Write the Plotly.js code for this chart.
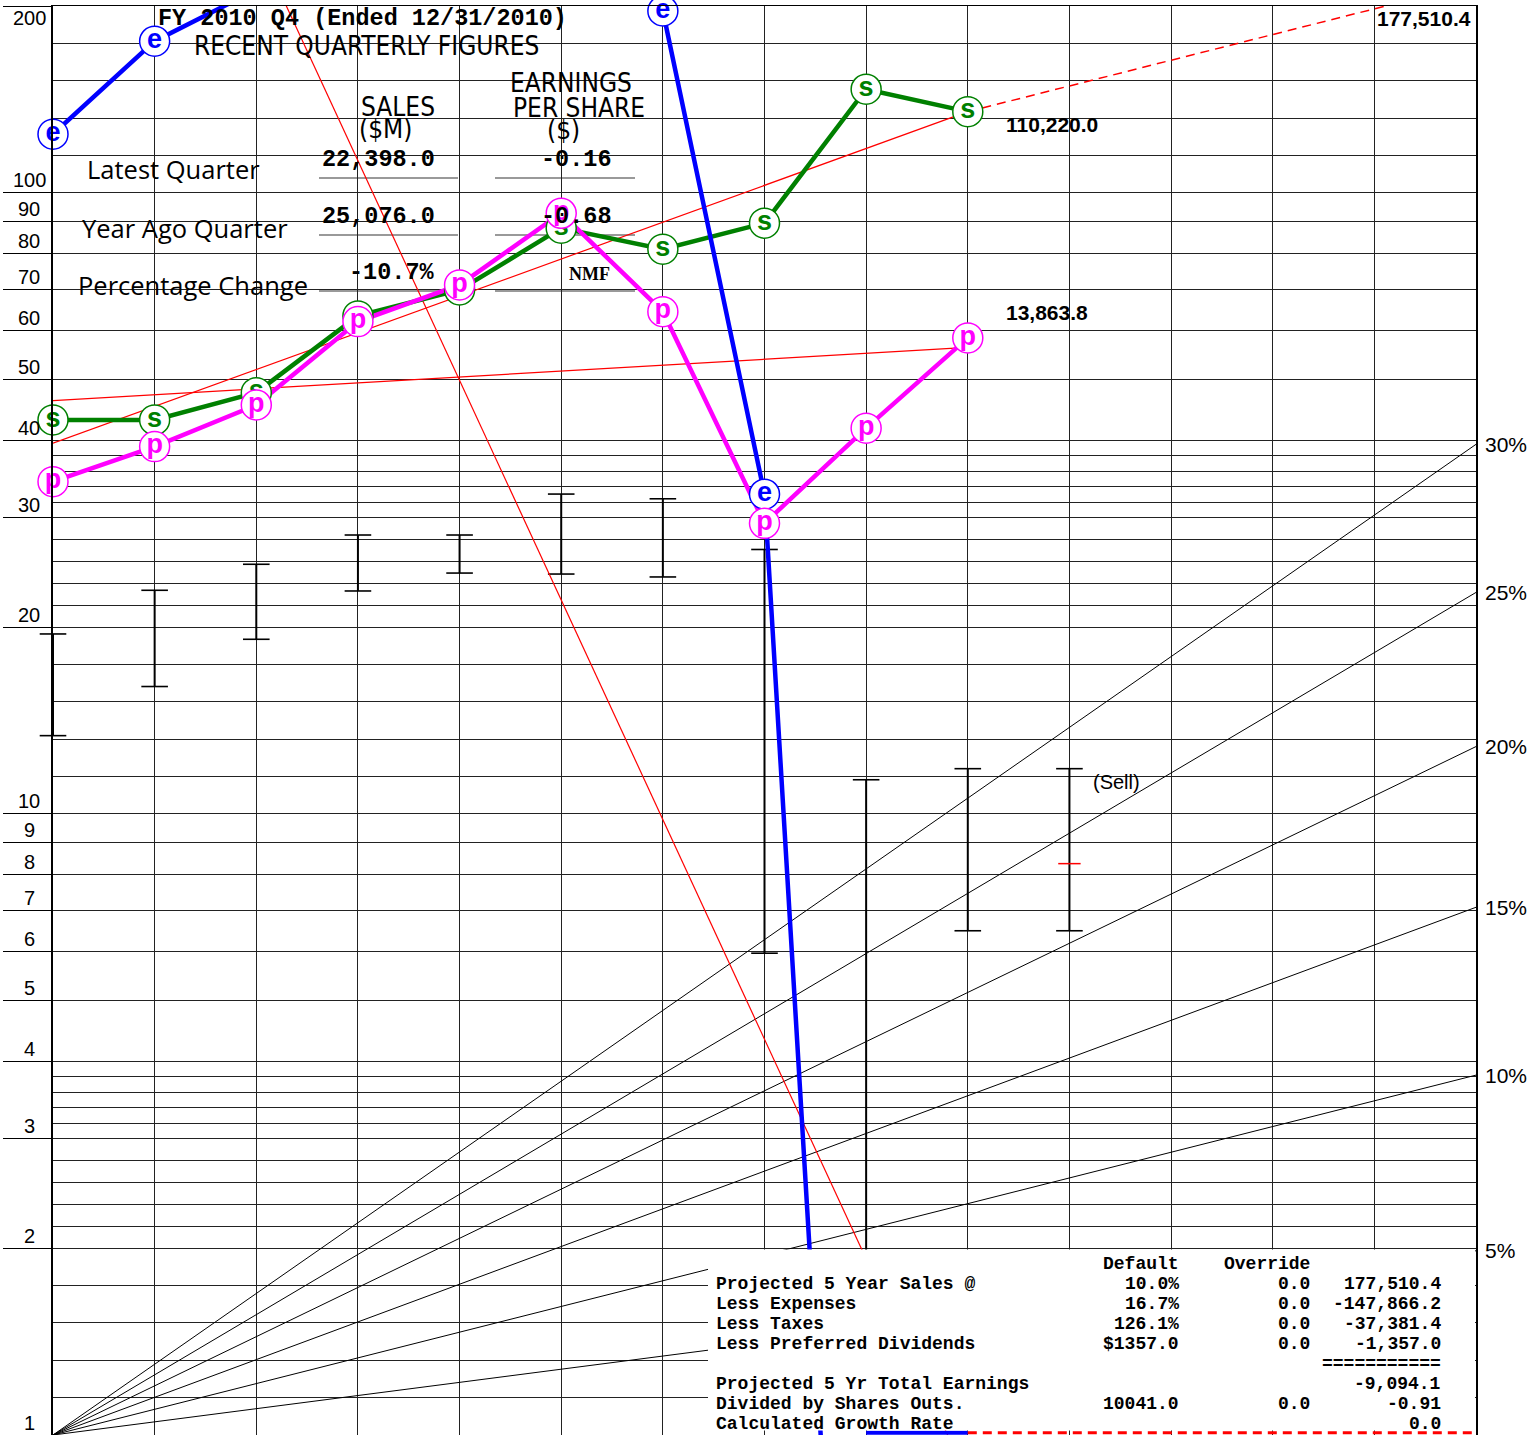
<!DOCTYPE html>
<html>
<head>
<meta charset="utf-8">
<script src="https://cdn.plot.ly/plotly-3.0.1.min.js"></script>
<style>
  html, body { margin: 0; padding: 0; background: #fff; }
  #chart { width: 1537px; height: 1435px; }
</style>
</head>
<body>
<div id="chart"></div>
<script>
// ---- Historical data (10 fiscal years, 2001-2010) ----
const years      = [0, 1, 2, 3, 4, 5, 6, 7, 8, 9];
const sales      = [35150, 35150, 38890, 51690, 56910, 71560, 66200, 72900, 119780, 110220]; // $M
const pretax     = [8137, 9265, 10812, 14730, 16873, 22010, 15283, 6972, 9920, 13863.8];     // $M
const eps        = [2.09, 2.95, 3.57, 3.64, 4.15, 4.59, 3.30, 0.55, -0.29, -0.37];           // $
const priceHigh  = [32.76, 38.52, 42.42, 47.28, 47.28, 55.03, 54.08, 44.81, 19.08, 19.88];   // $
const priceLow   = [22.47, 26.96, 32.12, 38.42, 41.06, 40.91, 40.47, 10.03, 2.53, 10.90];    // $

// Forecast price zone and current price (plotted one year past the history)
const forecastYear  = 10;
const forecastHigh  = 19.88;
const forecastLow   = 10.90;
const currentPrice  = 13.98;

// Trend lines: value at first and last historical year
const trendYears  = [0, 9];
const salesTrend  = [32240, 110220];
const pretaxTrend = [10987, 13384];
const epsTrend    = [21.8, 0.0143];

// Projection horizon
const projYears = [9, 14];

// Growth-rate guide lines (% per year)
const growthRates = [5, 10, 15, 20, 25, 30];

// Labelled y ticks
const yTickVals = [1, 2, 3, 4, 5, 6, 7, 8, 9, 10, 20, 30, 40, 50, 60, 70, 80, 90, 100, 200];

// Recent quarterly figures
const quarterTitle = 'FY 2010 Q4 (Ended 12/31/2010)';
const quarterRows  = ['Latest Quarter', 'Year Ago Quarter', 'Percentage Change'];
const quarterSales = ['22,398.0', '25,076.0', '-10.7%'];
const quarterEps   = ['-0.16', '-0.68', 'NMF'];

// Five-year projection table
const projLabels   = ['Projected 5 Year Sales @', 'Less Expenses', 'Less Taxes', 'Less Preferred Dividends',
                      '', 'Projected 5 Yr Total Earnings', 'Divided by Shares Outs.', 'Calculated Growth Rate'];
const projDefault  = ['10.0%', '16.7%', '126.1%', '$1357.0', '', '', '10041.0', ''];
const projOverride = ['0.0', '0.0', '0.0', '0.0', '', '', '0.0', ''];
const projValue    = ['177,510.4', '-147,866.2', '-37,381.4', '-1,357.0', '===========', '-9,094.1', '-0.91', '0.0'];

// ---- Chart scales (plotted units per unit of each series) ----
const SALES_SCALE  = 0.0012264;
const PRETAX_SCALE = 0.0042139;
const PRICE_SCALE  = 0.595;
const EPS_SCALE    = 100 * PRICE_SCALE;
const EPS_LOG_FLOOR = 0.001;   // non-positive EPS dive to this value on the log scale
const EDGE_PIN = 1.008;        // negative values pinned to the bottom edge
const Y_MIN = 1, Y_MAX = 200;

const projectedSales = parseFloat(projValue[0].replace(/,/g, ''));

// ---- Geometry helpers ----
const W = 1537, H = 1435;
const M = { l: 53, r: 61, t: 6, b: 0 };
const PW = W - M.l - M.r;
const PH = H - M.t - M.b;
const LOG_TOP = Math.log10(Y_MAX);
const px = x => (x - M.l) / PW;
const py = y => (H - M.b - y) / PH;
const vy = v => Math.log10(v) / LOG_TOP;

const fmt1 = v => v.toLocaleString('en-US', { minimumFractionDigits: 1, maximumFractionDigits: 1 });

const GREEN = '#008000', MAGENTA = '#ff00ff', BLUE = '#0000ff', RED = '#ff0000';
const SANS   = '"Liberation Sans", Arial, Helvetica, sans-serif';
const NARROW = '"Liberation Sans Narrow", "DejaVu Sans Condensed", "Liberation Sans", sans-serif';
const MONO   = '"Liberation Mono", "DejaVu Sans Mono", monospace';
const ROWF   = '"Open Sans", "Noto Sans", sans-serif';
const SERIF  = '"Liberation Serif", "DejaVu Serif", serif';

// Minor grid: four equal log steps inside the lower part of each decade
const minorVals = [];
[[1, 2], [2, 3], [3, 4], [10, 20], [20, 30], [30, 40], [100, 200]].forEach(([a, b]) => {
  for (let k = 1; k < 5; k++) minorVals.push(a * Math.pow(b / a, k / 5));
});

const data = [];

// Growth-rate fan from the lower-left corner
const fanX = [], fanY = [];
growthRates.forEach(r => {
  fanX.push(0, 14, null);
  fanY.push(1, Math.pow(1 + r / 100, 14), null);
});
data.push({ x: fanX, y: fanY, mode: 'lines', line: { color: '#000', width: 1 }, hoverinfo: 'skip' });

// High/low price bars: vertical stems plus end caps
function rangeBars(xs, lows, highs) {
  const sx = [], sy = [], cx = [], cy = [];
  xs.forEach((x, i) => {
    sx.push(x, x, null);
    sy.push(lows[i] * PRICE_SCALE, highs[i] * PRICE_SCALE, null);
    cx.push(x, x);
    cy.push(lows[i] * PRICE_SCALE, highs[i] * PRICE_SCALE);
  });
  data.push({ x: sx, y: sy, mode: 'lines', line: { color: '#000', width: 2 }, hoverinfo: 'skip' });
  data.push({ x: cx, y: cy, mode: 'markers', cliponaxis: false,
              marker: { symbol: 'line-ew', size: 19, line: { color: '#000', width: 1.6 } },
              hoverinfo: 'skip' });
}
rangeBars(years, priceLow, priceHigh);
rangeBars([forecastYear], [forecastLow], [forecastHigh]);

// Current price tick
data.push({
  x: [forecastYear], y: [currentPrice * PRICE_SCALE], mode: 'markers',
  marker: { symbol: 'line-ew', size: 16, line: { color: RED, width: 1.5 } },
  hoverinfo: 'skip'
});

// Trend lines
data.push({ x: trendYears, y: salesTrend.map(v => v * SALES_SCALE), mode: 'lines',
            line: { color: RED, width: 1.2 }, hoverinfo: 'skip' });
data.push({ x: trendYears, y: pretaxTrend.map(v => v * PRETAX_SCALE), mode: 'lines',
            line: { color: RED, width: 1.2 }, hoverinfo: 'skip' });
data.push({ x: trendYears, y: epsTrend.map(v => v * EPS_SCALE), mode: 'lines',
            line: { color: RED, width: 1.2 }, hoverinfo: 'skip' });

// Projected sales
data.push({ x: projYears, y: [sales[9] * SALES_SCALE, projectedSales * SALES_SCALE], mode: 'lines',
            line: { color: RED, width: 1.5, dash: '9px,6px' }, hoverinfo: 'skip' });

// Series lines
const epsPlot = eps.map(v => (v > 0 ? v : EPS_LOG_FLOOR) * EPS_SCALE);
data.push({ x: years, y: sales.map(v => v * SALES_SCALE), mode: 'lines',
            line: { color: GREEN, width: 4.5 }, hoverinfo: 'skip' });
data.push({ x: years, y: epsPlot, mode: 'lines',
            line: { color: BLUE, width: 4.5 }, hoverinfo: 'skip' });
data.push({ x: years, y: pretax.map(v => v * PRETAX_SCALE), mode: 'lines',
            line: { color: MAGENTA, width: 4.5 }, hoverinfo: 'skip' });

// Series markers with letters (letters only for points inside the scale)
function markerTrace(yv, color, letter) {
  return {
    x: years, y: yv, mode: 'markers+text', cliponaxis: false,
    marker: { symbol: 'circle', size: 30, color: '#fff', line: { color: color, width: 1.5 } },
    text: yv.map(v => (v <= Y_MAX && v >= Y_MIN ? letter : '')), textposition: 'middle center',
    textfont: { family: SANS, size: 27, color: color, weight: 'bold' },
    hoverinfo: 'skip'
  };
}
data.push(markerTrace(sales.map(v => v * SALES_SCALE), GREEN, 's'));
data.push(markerTrace(epsPlot, BLUE, 'e'));
data.push(markerTrace(pretax.map(v => v * PRETAX_SCALE), MAGENTA, 'p'));

// Negative EPS years and the projected EPS, pinned to the bottom edge
const negYears = years.filter(i => eps[i] <= 0);
data.push({ x: negYears, y: negYears.map(() => EDGE_PIN), mode: 'lines',
            line: { color: BLUE, width: 4 }, hoverinfo: 'skip' });
data.push({ x: projYears, y: projYears.map(() => EDGE_PIN), mode: 'lines',
            line: { color: RED, width: 3, dash: '9px,6px' }, hoverinfo: 'skip' });

// ---- Annotations ----
const ann = [];
function txt(x, y, text, font, xanchor) {
  ann.push({ xref: 'paper', yref: 'paper', x: px(x), y: py(y), text: text, showarrow: false,
             xanchor: xanchor || 'left', yanchor: 'middle', font: font });
}

// Y tick labels, centred over each labelled grid line
yTickVals.forEach(v => {
  ann.push({ xref: 'paper', yref: 'paper', x: px(29), y: vy(v), text: String(v), showarrow: false,
             xanchor: 'center', yanchor: 'middle', yshift: v === Y_MAX ? -12 : 12.5,
             font: { family: SANS, size: 20, color: '#000' } });
});

// Growth-rate labels
growthRates.forEach(r => {
  ann.push({ xref: 'paper', yref: 'paper', x: 1, y: vy(Math.pow(1 + r / 100, 14)), text: r + '%',
             showarrow: false, xanchor: 'left', yanchor: 'middle', xshift: 7,
             font: { family: SANS, size: 21, color: '#000' } });
});

// Value labels tied to the data
ann.push({ xref: 'x', yref: 'y', x: 9, y: Math.log10(sales[9] * SALES_SCALE), text: fmt1(sales[9]),
           showarrow: false, xanchor: 'left', yanchor: 'middle', xshift: 36, yshift: -13,
           font: { family: SANS, size: 21, color: '#000', weight: 'bold' } });
ann.push({ xref: 'x', yref: 'y', x: 9, y: Math.log10(pretax[9] * PRETAX_SCALE), text: fmt1(pretax[9]),
           showarrow: false, xanchor: 'left', yanchor: 'middle', xshift: 36, yshift: 25,
           font: { family: SANS, size: 21, color: '#000', weight: 'bold' } });
ann.push({ xref: 'x', yref: 'paper', x: 14, y: 1, text: fmt1(projectedSales),
           showarrow: false, xanchor: 'right', yanchor: 'middle', xshift: -3, yshift: -12,
           font: { family: SANS, size: 21, color: '#000', weight: 'bold' } });
ann.push({ xref: 'x', yref: 'y', x: forecastYear, y: Math.log10(forecastHigh * PRICE_SCALE), text: '(Sell)',
           showarrow: false, xanchor: 'left', yanchor: 'middle', xshift: 22, yshift: -13,
           font: { family: SANS, size: 20, color: '#000' } });

// Recent quarterly figures block
const MONO_B = { family: MONO, size: 23.5, color: '#000', weight: 'bold' };
const HEAD = { family: NARROW, size: 26, color: '#000' };
txt(156, 18, quarterTitle, MONO_B);
txt(366, 46, 'RECENT QUARTERLY FIGURES', HEAD, 'center');
txt(398, 107, 'SALES', HEAD, 'center');
txt(385, 129, '($M)', HEAD, 'center');
txt(571, 83, 'EARNINGS', HEAD, 'center');
txt(579, 108, 'PER SHARE', HEAD, 'center');
txt(563, 130, '($)', HEAD, 'center');

const ROW_Y = [169, 228, 285];
const ROW_X = [85, 80, 76];
const VAL_Y = [160, 216, 273];
const LINE_Y = [178, 235, 291];
quarterRows.forEach((r, i) => {
  txt(ROW_X[i], ROW_Y[i], r, { family: ROWF, size: 25.5, color: '#000' });
  txt(437, VAL_Y[i], quarterSales[i], MONO_B, 'right');
  const numeric = /\d/.test(quarterEps[i]);
  txt(numeric ? 614 : 612, VAL_Y[i] + (numeric ? 0 : 1), quarterEps[i],
      numeric ? MONO_B : { family: SERIF, size: 18, color: '#000', weight: 'bold' }, 'right');
});

// Projection table
const TB = { family: MONO, size: 18, color: '#000', weight: 'bold' };
txt(1181, 1263.5, 'Default', TB, 'right');
txt(1312, 1263.5, 'Override', TB, 'right');
projLabels.forEach((lab, i) => {
  const y = 1283.5 + i * 20.1;
  if (lab) txt(714, y, lab, TB, 'left');
  if (projDefault[i]) txt(1181, y, projDefault[i], TB, 'right');
  if (projOverride[i]) txt(1312, y, projOverride[i], TB, 'right');
  if (projValue[i]) txt(1443, y, projValue[i], TB, 'right');
});

// ---- Shapes ----
const shapes = [];
// White panel behind the quarterly figures (above grid, below data)
shapes.push({ type: 'rect', xref: 'paper', yref: 'paper', layer: 'between',
              x0: px(54.2), x1: (6 / 14) - 1.4 / PW, y0: vy(50) + 1.4 / PH, y1: 1,
              fillcolor: '#fff', line: { width: 0 } });
LINE_Y.forEach(y => {
  [[319, 458], [495, 635]].forEach(([a, b]) => {
    shapes.push({ type: 'line', xref: 'paper', yref: 'paper', layer: 'between',
                  x0: px(a), x1: px(b), y0: py(y), y1: py(y), line: { color: '#777', width: 1.5 } });
  });
});
// White panel for the projection table (covers everything beneath it)
shapes.push({ type: 'rect', xref: 'paper', yref: 'paper', layer: 'above',
              x0: px(708), x1: px(1475), y0: py(1430.5), y1: vy(2) - 1.4 / PH,
              fillcolor: '#fff', line: { width: 0 } });

const layout = {
  width: W, height: H,
  margin: M,
  paper_bgcolor: '#fff', plot_bgcolor: '#fff',
  showlegend: false, hovermode: false,
  xaxis: {
    range: [0, 14], tickmode: 'linear', tick0: 0, dtick: 1,
    showticklabels: false, ticks: '',
    showgrid: true, gridcolor: '#222', gridwidth: 1,
    zeroline: false, showline: true, mirror: true, linecolor: '#000', linewidth: 1.5,
    fixedrange: true
  },
  yaxis: {
    type: 'log', range: [0, LOG_TOP],
    tickmode: 'array', tickvals: yTickVals, showticklabels: false,
    ticks: 'outside', ticklen: 48, tickwidth: 1, tickcolor: '#000',
    showgrid: true, gridcolor: '#222', gridwidth: 1,
    minor: { tickmode: 'array', tickvals: minorVals, showgrid: true, gridcolor: '#222', gridwidth: 1, ticks: '' },
    zeroline: false, showline: true, mirror: true, linecolor: '#000', linewidth: 2,
    fixedrange: true
  },
  shapes: shapes,
  annotations: ann
};

Plotly.newPlot('chart', data, layout, { staticPlot: true, displayModeBar: false });
</script>
</body>
</html>
